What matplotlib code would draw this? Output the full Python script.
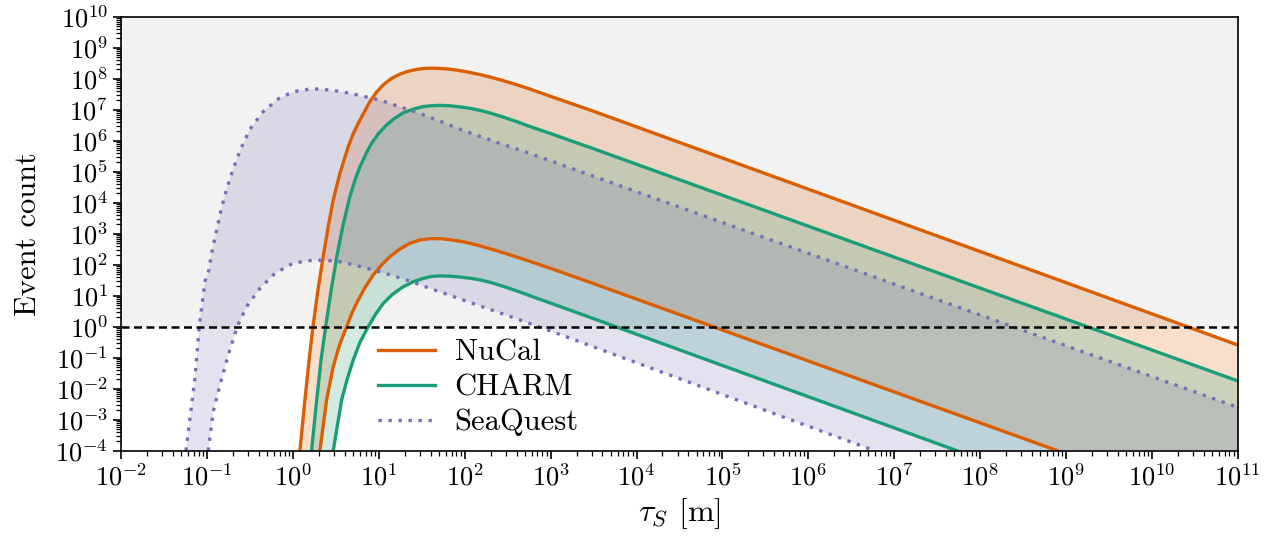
import numpy as np
import matplotlib
matplotlib.use("Agg")
import matplotlib.pyplot as plt
from matplotlib.ticker import LogLocator, NullFormatter

plt.rcParams.update({
    "font.family": "serif",
    "font.serif": ["cmr10"],
    "mathtext.fontset": "cm",
    "axes.formatter.use_mathtext": True,
    "font.size": 19,
})

# values, stored as log10(tau) and log10(event count)
nucal_hi_lt = [0.080, 0.137, 0.190, 0.232, 0.290, 0.350, 0.410, 0.468, 0.546, 0.643,
               0.70, 0.759, 0.83, 0.895, 0.97, 1.05, 1.14, 1.245, 1.34, 1.439,
               1.52, 1.60, 1.70, 1.80, 1.90, 2.02, 2.15, 2.30, 2.45, 2.60,
               2.76, 3.0, 3.5, 11.0]
nucal_hi_ln = [-4.0, -2.40, -1.00, 0.0, 1.18, 2.24, 3.23, 4.09, 4.95, 5.81,
               6.22, 6.56, 6.93, 7.26, 7.56, 7.80, 8.00, 8.15, 8.24, 8.30,
               8.33, 8.34, 8.335, 8.315, 8.28, 8.225, 8.15, 8.05, 7.935, 7.81,
               7.665, 7.43, 6.95, -0.59]
nucal_lo_lt = [0.313, 0.391, 0.468, 0.54, 0.624, 0.69, 0.759, 0.84, 0.934, 1.03,
               1.128, 1.24, 1.361, 1.48, 1.60, 1.72, 1.85, 2.0, 2.176, 2.35,
               2.5, 2.6, 2.758, 3.0, 3.5, 8.9]
nucal_lo_ln = [-4.0, -2.36, -1.29, -0.60, 0.0, 0.47, 0.86, 1.27, 1.67, 1.99,
               2.26, 2.50, 2.69, 2.80, 2.84, 2.84, 2.80, 2.73, 2.61, 2.47,
               2.34, 2.25, 2.11, 1.88, 1.39, -4.0]

charm_hi_lt = [0.216, 0.272, 0.327, 0.380, 0.445, 0.515, 0.584, 0.662, 0.72, 0.779,
               0.85, 0.915, 1.0, 1.09, 1.18, 1.283, 1.40, 1.516, 1.61, 1.71,
               1.82, 1.95, 2.07, 2.176, 2.3, 2.45, 2.6, 2.758, 3.0, 3.5, 11.0]
charm_hi_ln = [-4.0, -2.45, -1.05, 0.0, 1.20, 2.35, 3.30, 4.20, 4.72, 5.16,
               5.58, 5.92, 6.25, 6.51, 6.72, 6.90, 7.02, 7.10, 7.13, 7.14,
               7.13, 7.09, 7.04, 6.98, 6.89, 6.76, 6.62, 6.46, 6.23, 5.74, -1.75]
charm_lo_lt = [0.468, 0.566, 0.63, 0.701, 0.78, 0.875, 0.96, 1.05, 1.16, 1.283,
               1.40, 1.516, 1.61, 1.71, 1.83, 1.95, 2.07, 2.176, 2.3, 2.45,
               2.6, 2.758, 3.0, 3.5, 7.73]
charm_lo_ln = [-4.0, -2.36, -1.70, -1.07, -0.50, 0.0, 0.40, 0.75, 1.05, 1.29,
               1.45, 1.56, 1.62, 1.64, 1.63, 1.60, 1.56, 1.51, 1.43, 1.30,
               1.16, 1.00, 0.76, 0.26, -4.0]

seaq_hi_lt = [-1.247, -1.20, -1.142, -1.092, -1.026, -0.983, -0.941, -0.889, -0.836, -0.773,
              -0.696, -0.607, -0.502, -0.354, -0.172, -0.06, 0.054, 0.18, 0.305, 0.526,
              0.75, 1.01, 1.24, 1.478, 1.72, 1.963, 2.35, 2.758, 11.0]
seaq_hi_ln = [-4.0, -2.95, -1.66, 0.0, 1.45, 1.79, 2.47, 3.13, 3.79, 4.44,
              5.10, 5.75, 6.37, 6.92, 7.35, 7.50, 7.61, 7.66, 7.67, 7.60,
              7.48, 7.31, 7.10, 6.88, 6.62, 6.35, 5.97, 5.59, -2.60]
seaq_lo_lt = [-0.987, -0.929, -0.851, -0.754, -0.650, -0.540, -0.385, -0.211, 0.0, 0.235,
              0.508, 0.72, 0.93, 1.12, 1.32, 1.47, 1.63, 1.78, 1.94, 2.25,
              2.64, 3.0, 6.77]
seaq_lo_ln = [-4.0, -2.74, -1.88, -0.91, 0.0, 0.65, 1.24, 1.72, 2.05, 2.15,
              2.12, 1.99, 1.83, 1.68, 1.51, 1.36, 1.20, 1.06, 0.90, 0.60,
              0.22, -0.14, -4.0]

labels = ["NuCal", "CHARM", "SeaQuest"]
colors = ["#d95f02", "#1b9e77", "#7570b3"]

xmin, xmax = 1e-2, 1e11
ymin, ymax = 1e-4, 1e10

fig = plt.figure(figsize=(12.79, 5.36), dpi=100)
ax = fig.add_axes([0.0948, 0.1591, 0.873, 0.8097])

ax.axhspan(1, ymax, color="#f2f2f2", lw=0, zorder=0)

bands = [
    (nucal_hi_lt, nucal_hi_ln, nucal_lo_lt, nucal_lo_ln),
    (charm_hi_lt, charm_hi_ln, charm_lo_lt, charm_lo_ln),
    (seaq_hi_lt, seaq_hi_ln, seaq_lo_lt, seaq_lo_ln),
]

# shaded band between upper and lower curve, closed along the bottom edge
for (hlt, hln, llt, lln), c in zip(bands, colors):
    th, nh = 10 ** np.array(hlt), 10 ** np.array(hln)
    tl, nl = 10 ** np.array(llt), 10 ** np.array(lln)
    px = np.concatenate([th, [th[-1]], tl[::-1]])
    py = np.concatenate([nh, [ymin], nl[::-1]])
    ax.fill(px, py, color=c, alpha=0.2, lw=0, zorder=1)

for (hlt, hln, llt, lln), c, lab in zip(bands, colors, labels):
    if lab == "SeaQuest":
        ls = (0, (1, 2))
    else:
        ls = "-"
    ax.plot(10 ** np.array(hlt), 10 ** np.array(hln), color=c, lw=2.4, ls=ls, label=lab, zorder=2)
    ax.plot(10 ** np.array(llt), 10 ** np.array(lln), color=c, lw=2.4, ls=ls, zorder=2)

ax.axhline(1, color="black", ls=(0, (3.2, 1.8)), lw=1.8, zorder=3)

ax.set_xscale("log")
ax.set_yscale("log")
ax.set_xlim(xmin, xmax)
ax.set_ylim(ymin, ymax)

ax.xaxis.set_major_locator(LogLocator(base=10, numticks=30))
ax.yaxis.set_major_locator(LogLocator(base=10, numticks=30))
ax.xaxis.set_minor_locator(LogLocator(base=10, subs=np.arange(2, 10), numticks=300))
ax.yaxis.set_minor_locator(LogLocator(base=10, subs=np.arange(2, 10), numticks=300))
ax.xaxis.set_minor_formatter(NullFormatter())
ax.yaxis.set_minor_formatter(NullFormatter())

ax.tick_params(which="major", direction="out", length=6, width=1.2, labelsize=19)
ax.tick_params(which="minor", direction="out", length=3.5, width=0.9)
for s in ax.spines.values():
    s.set_linewidth(1.2)

ax.set_xlabel(r"$\tau_S$ [m]", fontsize=23, labelpad=4)
ax.set_ylabel("Event count", fontsize=22, labelpad=10)

ax.legend(loc="upper left", bbox_to_anchor=(0.219, 0.286), borderaxespad=0, frameon=False,
          fontsize=22, handlelength=1.86, handletextpad=0.65, labelspacing=0.25)

fig.savefig("out.png", dpi=100)
